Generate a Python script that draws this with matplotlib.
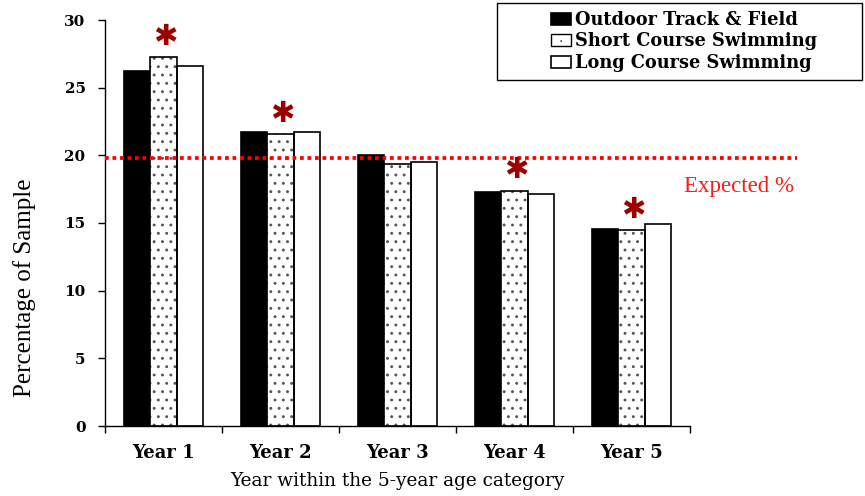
import matplotlib
matplotlib.use("Agg")
import matplotlib.pyplot as plt
import numpy as np
from matplotlib.patches import Rectangle, Patch

categories = ["Year 1", "Year 2", "Year 3", "Year 4", "Year 5"]
series_names = ["Outdoor Track & Field", "Short Course Swimming", "Long Course Swimming"]
track_field = [26.2, 21.75, 20.0, 17.3, 14.55]
short_course = [27.25, 21.6, 19.35, 17.4, 14.45]
long_course = [26.6, 21.7, 19.5, 17.15, 14.95]
expected_pct = 19.8
significant = [True, True, False, True, True]  # asterisks above Short Course bars
y_ticks = [0, 5, 10, 15, 20, 25, 30]

fig = plt.figure(figsize=(8.65, 4.96), dpi=100)
ax = fig.add_axes([105/865, 1-426/496, 585/865, 406/496])

x = np.arange(len(categories))
w = 0.225
plt.rcParams['hatch.linewidth'] = 0.9
b1 = ax.bar(x - w, track_field, w, color="black", edgecolor="black", linewidth=1.2,
            label=series_names[0], zorder=2)
# dotted bars: grey dots layer, then black outline
ax.bar(x, short_course, w, color="white", edgecolor="#555555", linewidth=0,
       hatch="..", zorder=2)
ax.bar(x, short_course, w, fill=False, edgecolor="black", linewidth=1.2, zorder=2.1)
b3 = ax.bar(x + w, long_course, w, color="white", edgecolor="black", linewidth=1.2,
            label=series_names[2], zorder=2)

# expected line, extends beyond the axes
ax.plot([0, (797-105)/585], [expected_pct, expected_pct], transform=ax.get_yaxis_transform(),
        color="#ff0000", linewidth=2.7, linestyle=(0, (1, 1)), clip_on=False, zorder=3,
        solid_capstyle="butt", dash_capstyle="butt")
ax.text((738.5-105)/585, expected_pct - 2.1, "Expected %", transform=ax.get_yaxis_transform(),
        color="#ff1a1a", fontsize=16.5, family="Liberation Serif", ha="center", va="center")

# asterisks
for xi, v, s in zip(x, short_course, significant):
    if s:
        ax.annotate("\u2731", xy=(xi, v), xytext=(1, 14.5), textcoords="offset points",
                    ha="center", va="center", color="#9b0000", fontsize=21,
                    family="DejaVu Sans", annotation_clip=False)

ax.set_xlim(-0.5, len(categories) - 0.5)
ax.set_ylim(0, 30)
ax.set_yticks(y_ticks)
ax.set_yticklabels([str(t) for t in y_ticks], fontsize=11, fontweight="bold", family="DejaVu Serif")
ax.set_xticks(x)
ax.set_xticklabels(categories, fontsize=13, fontweight="bold", family="DejaVu Serif")
ax.set_xticks(np.arange(len(categories) + 1) - 0.5, minor=True)
ax.tick_params(axis="x", which="major", length=0, pad=13)
ax.tick_params(axis="x", which="minor", length=5, width=1.0, direction="out")
ax.tick_params(axis="y", which="major", length=5, width=1.0, direction="out", pad=9)

for s in ["top", "right"]:
    ax.spines[s].set_visible(False)
for s in ["left", "bottom"]:
    ax.spines[s].set_linewidth(1.0)

ax.set_xlabel("Year within the 5-year age category", fontsize=13.3, family="DejaVu Serif", labelpad=7)
ax.set_ylabel("Percentage of Sample", fontsize=18, family="Liberation Serif")
ax.yaxis.set_label_coords(-0.118, 0.34)

# legend with separate frame box
fig.patches.append(Rectangle((497/865, 1-80/496), (862-497)/865, 77/496,
                             transform=fig.transFigure, fill=False, edgecolor="black",
                             linewidth=1.0))
dotted_proxy = Patch(facecolor="white", edgecolor="black", linewidth=1.0, label=series_names[1])
leg = fig.legend(handles=[b1, dotted_proxy, b3], loc="center", bbox_to_anchor=(684/865, 1-41.5/496),
                 frameon=False, prop={"family": "DejaVu Serif", "weight": "bold", "size": 12.8},
                 handlelength=1.1, handleheight=0.65, handletextpad=0.25, labelspacing=0.2,
                 borderpad=0)
# single dot inside the dotted legend handle
hp = leg.legend_handles[1]
fig.canvas.draw()
bb = hp.get_window_extent()
fig.text((bb.x0 + bb.x1) / 2 / fig.dpi / fig.get_figwidth(),
         (bb.y0 + bb.y1) / 2 / fig.dpi / fig.get_figheight() - 0.003,
         "\u00b7", fontsize=10, color="#333333", ha="center", va="center", zorder=20)

fig.savefig("out.png", dpi=100)
